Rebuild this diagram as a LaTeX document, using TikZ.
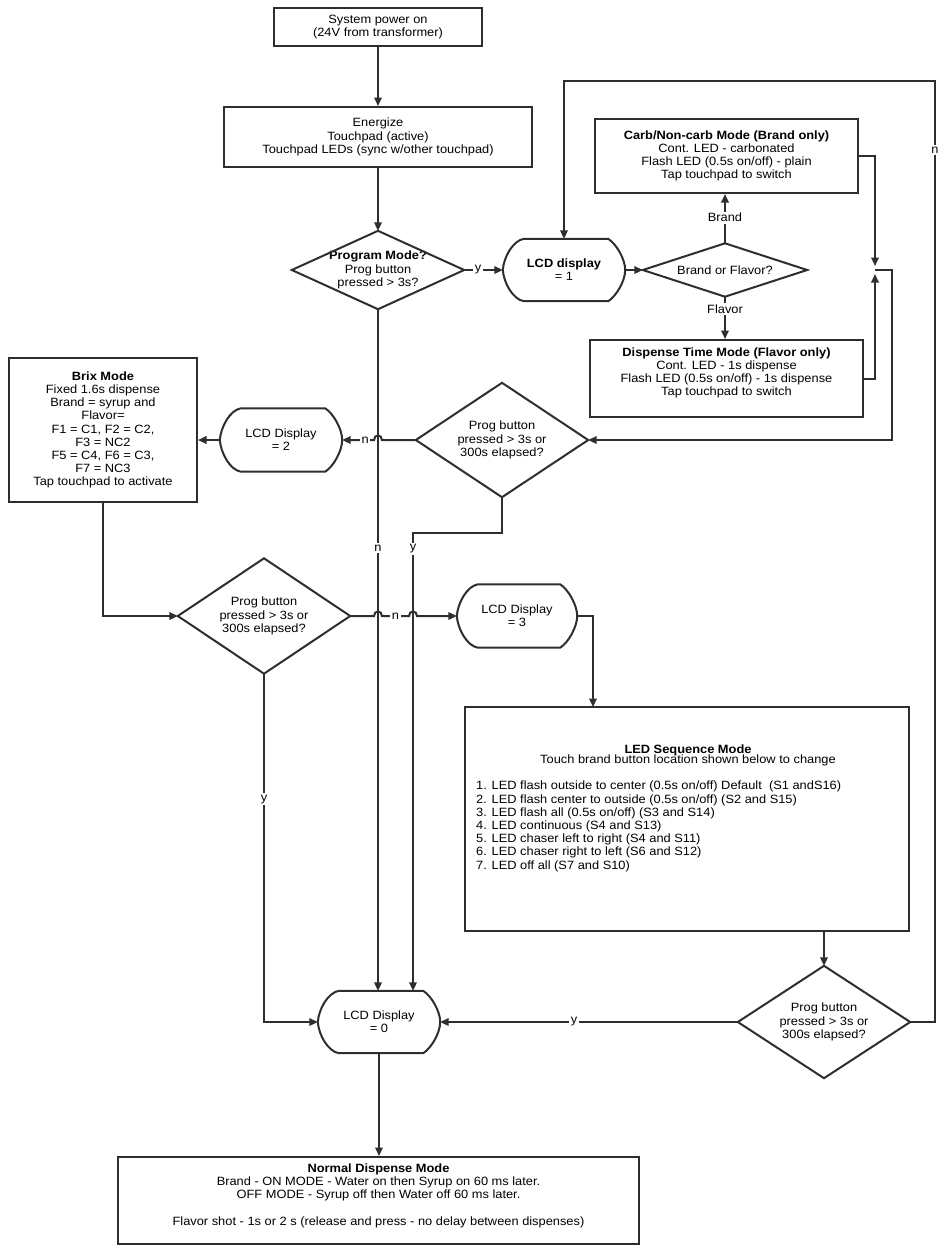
\documentclass[tikz,border=0pt]{standalone}
\usepackage{fontspec}
\setmainfont{Liberation Sans}[FakeStretch=1.07]
\usetikzlibrary{arrows.meta,calc}
\newcommand\drawdiamond[1]{\draw[ln, line join=miter] (#1.north) -- (#1.east) -- (#1.south) -- (#1.west) -- cycle;}
\newcommand\drawlcd[1]{\draw[ln] ([xshift=21pt]#1.north west) -- ([xshift=-17pt]#1.north east)
  .. controls ([xshift=-9pt,yshift=-5pt]#1.north east) and ([yshift=11pt]#1.east) .. (#1.east)
  .. controls ([yshift=-11pt]#1.east) and ([xshift=-9pt,yshift=5pt]#1.south east) .. ([xshift=-17pt]#1.south east)
  -- ([xshift=21pt]#1.south west)
  .. controls ([xshift=10pt,yshift=2pt]#1.south west) and ([xshift=1pt,yshift=-13pt]#1.west) .. (#1.west)
  .. controls ([xshift=1pt,yshift=13pt]#1.west) and ([xshift=10pt,yshift=-2pt]#1.north west) .. cycle;}
\begin{document}
\begin{tikzpicture}[x=1pt,y=-1pt,
  font=\fontsize{12}{13.2}\selectfont,
  ln/.style={line width=2pt, draw=black!82},
  arr/.style={ln, -{Triangle[length=8.5pt,width=7.5pt]}},
  box/.style={draw=black!82, line width=2pt, rectangle, inner sep=0pt, align=center},
  txt/.style={align=center, inner sep=0pt},
  shp/.style={rectangle, inner sep=0pt, align=center},
  lbl/.style={fill=white, inner sep=1.5pt}]
\useasboundingbox (0,0) rectangle (943,1254);

% nodes
\node[box, minimum width=208pt, minimum height=38pt] (power) at (378,27) {System power on\\(24V from transformer)};
\node[box, minimum width=308pt, minimum height=60pt] (energize) at (378,137) {Energize\\Touchpad (active)\\Touchpad LEDs (sync w/other touchpad)};
\node[shp, minimum width=172pt, minimum height=78pt] (pm) at (378,270) {\textbf{Program Mode?}\\Prog button\\pressed > 3s?};
\node[shp, minimum width=122pt, minimum height=62pt] (lcd1) at (564,270) {\textbf{LCD display}\\= 1};
\node[shp, minimum width=164pt, minimum height=53pt] (bf) at (725,270) {Brand or Flavor?};
\node[box, minimum width=263pt, minimum height=74pt] (carb) at (726.5,156) {\textbf{Carb/Non-carb Mode (Brand only)}\\Cont. LED - carbonated\\Flash LED (0.5s on/off) - plain\\Tap touchpad to switch};
\node[box, minimum width=273pt, minimum height=77pt] (disp) at (726.5,378.5) {};
\node[txt] (disptxt) at (726.5,373) {\textbf{Dispense Time Mode (Flavor only)}\\Cont. LED - 1s dispense\\Flash LED (0.5s on/off) - 1s dispense\\Tap touchpad to switch};
\node[shp, minimum width=172pt, minimum height=114pt] (d2) at (502,440) {Prog button\\pressed > 3s or\\300s elapsed?};
\node[shp, minimum width=122pt, minimum height=63pt] (lcd2) at (281,440) {LCD Display\\= 2};
\node[box, minimum width=188pt, minimum height=144pt] (brix) at (103,430) {\textbf{Brix Mode}\\Fixed 1.6s dispense\\Brand = syrup and\\Flavor=\\F1 = C1, F2 = C2,\\F3 = NC2\\F5 = C4, F6 = C3,\\F7 = NC3\\Tap touchpad to activate};
\node[shp, minimum width=172pt, minimum height=115pt] (d3) at (264,616) {Prog button\\pressed > 3s or\\300s elapsed?};
\node[shp, minimum width=120pt, minimum height=63pt] (lcd3) at (517,616) {LCD Display\\= 3};
\node[box, minimum width=444pt, minimum height=224pt] (led) at (687,819) {};
\node[txt] (ledtitle) at (688,755.5) {\textbf{LED Sequence Mode}\\[-3.3pt]Touch brand button location shown below to change};
\node[txt, align=left, anchor=north west] (ledlist) at (476,781) {1. LED flash outside to center (0.5s on/off) Default\ \ (S1 andS16)\\2. LED flash center to outside (0.5s on/off) (S2 and S15)\\3. LED flash all (0.5s on/off) (S3 and S14)\\4. LED continuous (S4 and S13)\\5. LED chaser left to right (S4 and S11)\\6. LED chaser right to left (S6 and S12)\\7. LED off all (S7 and S10)};
\node[shp, minimum width=172pt, minimum height=112pt] (d4) at (824,1022) {Prog button\\pressed > 3s or\\300s elapsed?};
\node[shp, minimum width=122pt, minimum height=62pt] (lcd0) at (379,1022) {LCD Display\\= 0};
\node[box, minimum width=521pt, minimum height=87pt] (normal) at (378.5,1200.5) {};
\node[txt] (normaltxt) at (378.5,1195.5) {\textbf{Normal Dispense Mode}\\Brand - ON MODE - Water on then Syrup on 60 ms later.\\OFF MODE - Syrup off then Water off 60 ms later.\\[13.2pt]Flavor shot - 1s or 2 s (release and press - no delay between dispenses)};

% outlines
\drawdiamond{pm}
\drawdiamond{bf}
\drawdiamond{d2}
\drawdiamond{d3}
\drawdiamond{d4}
\drawlcd{lcd1}
\drawlcd{lcd2}
\drawlcd{lcd3}
\drawlcd{lcd0}

% helper coordinates
\coordinate (junc) at (875,270);
\coordinate (jr) at (892,270);
\coordinate (looptr) at (935,81);
\coordinate (c1) at (413,533);
\coordinate (ledin) at (593,707);
\coordinate (h1) at (pm.south |- d2.west);
\coordinate (h2) at (pm.south |- d3.east);
\coordinate (h3) at (c1 |- d3.east);

% connectors
\draw[arr] (power) -- (energize);
\draw[arr] (energize) -- (pm);
\draw[arr] (pm.east) -- node[lbl, pos=0.36]{y} (lcd1.west);
\draw[arr] (lcd1.east) -- (bf.west);
\draw[arr] (bf.north) -- node[lbl, pos=0.52]{Brand} (bf.north |- carb.south);
\draw[arr] (bf.south) -- node[lbl, pos=0.3]{Flavor} (bf.south |- disp.north);
\draw[arr] (carb.east) -| ([yshift=4pt]junc);
\draw[arr] (disp.east) -| ([yshift=-4pt]junc);
\draw[arr] (junc) -- (jr) |- (d2.east);
\draw[arr] (d4.east) -| (looptr) -| (lcd1.north);
\node[lbl] (nloop) at (935,150) {n};
\draw[arr] (d2.west) -- ([xshift=4pt]h1) .. controls ([xshift=4pt,yshift=6pt]h1) and ([xshift=-4pt,yshift=6pt]h1) .. ([xshift=-4pt]h1) -- node[lbl, pos=0.28]{n} (lcd2.east);
\draw[arr] (lcd2.west) -- (brix.east |- lcd2.west);
\draw[arr] (brix.south) |- (d3.west);
\draw[arr] (d3.east) -- ([xshift=-4pt]h2) .. controls ([xshift=-4pt,yshift=6pt]h2) and ([xshift=4pt,yshift=6pt]h2) .. ([xshift=4pt]h2) -- node[lbl]{n} ([xshift=-4pt]h3) .. controls ([xshift=-4pt,yshift=6pt]h3) and ([xshift=4pt,yshift=6pt]h3) .. ([xshift=4pt]h3) -- (lcd3.west);
\draw[arr] (lcd3.east) -| (ledin);
\draw[arr] (led.south -| d4.north) -- (d4.north);
\draw[arr] (d4.west) -- node[lbl, pos=0.55]{y} (lcd0.east);
\draw[arr] (d3.south) |- node[lbl, pos=0.18]{y} (lcd0.west);
\draw[arr] (pm.south) -- node[lbl, pos=0.35]{n} (pm.south |- lcd0.north);
\draw[arr] (d2.south) |- (c1) -- node[lbl, pos=0.035]{y} (c1 |- lcd0.north);
\draw[arr] (lcd0.south) -- (lcd0.south |- normal.north);
\end{tikzpicture}
\end{document}
